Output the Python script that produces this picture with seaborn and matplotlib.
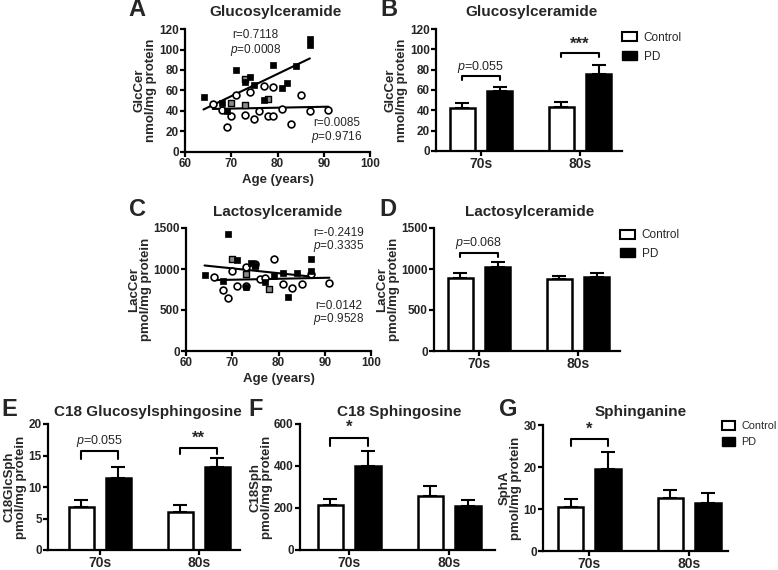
import numpy as np
import pandas as pd
import seaborn as sns
import matplotlib.pyplot as plt
from matplotlib.patches import Patch

sns.set_theme(style='ticks')
plt.rcParams['font.family'] = ['Liberation Sans', 'DejaVu Sans']
plt.rcParams['mathtext.fontset'] = 'custom'
plt.rcParams['mathtext.rm'] = 'Liberation Sans'
plt.rcParams['mathtext.it'] = 'Liberation Sans:italic'

# ---- scatter data (panels A and C) ----
pd_age = [64, 68, 69, 71, 73, 74, 75, 77, 79, 81, 82, 84, 87, 87]
pd_glc = [54, 48, 40, 80, 68, 73, 65, 51, 85, 62, 67, 84, 110, 104]
pdg_age = [70, 73, 73, 78]
pdg_glc = [48, 46, 71, 52]
ctl_age = [66, 68, 69, 70, 71, 73, 74, 75, 76, 77, 78, 79, 79, 81, 83, 85, 87, 91]
ctl_glc = [47, 41, 24, 35, 56, 36, 59, 32, 40, 64, 35, 35, 63, 42, 27, 56, 40, 41]

pd_age_c = [64, 68, 69, 71, 73, 74, 75, 77, 79, 81, 82, 84, 87, 87]
pd_lac = [929, 859, 1426, 1112, 786, 1072, 1035, 847, 917, 957, 664, 950, 1120, 970]
pdg_age_c = [70, 73, 75, 78]
pdg_lac = [1120, 941, 1050, 754]
ctl_age_c = [66, 68, 69, 70, 71, 73, 73, 75, 76, 77, 79, 81, 83, 85, 87, 91]
ctl_lac = [908, 745, 651, 970, 794, 1030, 790, 1063, 880, 896, 1124, 819, 774, 819, 937, 827]

# ---- bar data (mean, upper SEM) ----
decades = ['70s', '80s']
groups = ['Control', 'PD']
glc_ctl, glc_ctl_err = [42.5, 43.0], [4.5, 4.8]
glc_pd, glc_pd_err = [59.0, 76.0], [4.2, 8.5]
lac_ctl, lac_ctl_err = [895, 876], [52, 40]
lac_pd, lac_pd_err = [1030, 900], [60, 57]
gsph_ctl, gsph_ctl_err = [6.9, 6.0], [1.0, 1.1]
gsph_pd, gsph_pd_err = [11.4, 13.2], [1.8, 1.4]
sph_ctl, sph_ctl_err = [212, 256], [33, 50]
sph_pd, sph_pd_err = [400, 208], [71, 28]
spha_ctl, spha_ctl_err = [10.4, 12.6], [2.0, 2.0]
spha_pd, spha_pd_err = [19.6, 11.4], [4.0, 2.3]

W, H = 778, 570
fig = plt.figure(figsize=(W / 100, H / 100), dpi=100)


def px_axes(l, t, r, b):
    return fig.add_axes([l / W, 1 - b / H, (r - l) / W, (b - t) / H])


def style_ax(ax, ylabel):
    sns.despine(ax=ax)
    for s in ['left', 'bottom']:
        ax.spines[s].set_linewidth(1.6)
        ax.spines[s].set_color('black')
    ax.tick_params(width=1.6, length=3.5, color='black', labelsize=8.5, pad=1)
    for lab in ax.get_xticklabels() + ax.get_yticklabels():
        lab.set_fontweight('bold')
    ax.set_ylabel(ylabel, fontsize=9.5, fontweight='bold', linespacing=0.95, labelpad=1)


def scatter_panel(ax, a1, v1, a2, v2, a3, v3, ymax, yticks, ylabel):
    sns.regplot(x=a1 + a2, y=v1 + v2, scatter=False, ci=None, ax=ax,
                line_kws=dict(color='black', lw=1.5))
    sns.regplot(x=a3, y=v3, scatter=False, ci=None, ax=ax,
                line_kws=dict(color='black', lw=1.5))
    sns.scatterplot(x=a3, y=v3, marker='o', s=24, facecolor='white',
                    edgecolor='black', linewidth=1.2, ax=ax, zorder=3)
    sns.scatterplot(x=a2, y=v2, marker='s', s=24, color='#8c8c8c',
                    edgecolor='black', linewidth=1.0, ax=ax, zorder=3)
    sns.scatterplot(x=a1, y=v1, marker='s', s=22, color='black',
                    edgecolor='black', linewidth=0.5, ax=ax, zorder=4)
    ax.set_xlim(60, 100)
    ax.set_ylim(0, ymax)
    ax.set_xticks([60, 70, 80, 90, 100])
    ax.set_yticks(yticks)
    ax.set_xlabel('Age (years)', fontsize=9.5, fontweight='bold', labelpad=3)
    style_ax(ax, ylabel)


def bar_panel(ax, c, ce, p, pe, xlim, ymax, yticks, ylabel):
    df = pd.DataFrame({'decade': decades * 2,
                       'group': ['Control'] * 2 + ['PD'] * 2,
                       'value': c + p})
    sns.barplot(data=df, x='decade', y='value', hue='group', hue_order=groups,
                palette={'Control': 'white', 'PD': 'black'}, edgecolor='black',
                linewidth=1.8, width=0.75, gap=0.32, errorbar=None,
                legend=False, ax=ax, zorder=2)
    pos = np.arange(len(decades))
    for off, m, e in [(-0.1875, c, ce), (0.1875, p, pe)]:
        ax.errorbar(pos + off, m, yerr=[np.zeros(len(m)), e], fmt='none',
                    ecolor='black', elinewidth=1.5, capsize=5, capthick=1.5, zorder=1)
    ax.set_xlim(*xlim)
    ax.set_ylim(0, ymax)
    ax.set_yticks(yticks)
    ax.set_xlabel('')
    style_ax(ax, ylabel)
    ax.tick_params(axis='x', labelsize=10, pad=0.5)
    for lab in ax.get_xticklabels():
        lab.set_fontweight('bold')


def bracket(ax, i, y_top, drop, text, italic_p=False, fs=9):
    x1, x2 = i - 0.1875, i + 0.1875
    ax.plot([x1, x1, x2, x2], [y_top - drop, y_top, y_top, y_top - drop],
            color='black', lw=1.5, clip_on=False)
    ax.text(i, y_top + drop * 0.3, text, ha='center', va='bottom', fontsize=fs,
            fontweight='normal' if italic_p else 'bold', clip_on=False)


def legend(ax, x, y, fs=8.5):
    handles = [Patch(facecolor='white', edgecolor='black', linewidth=1.5, label='Control'),
               Patch(facecolor='black', edgecolor='black', label='PD')]
    ax.legend(handles=handles, loc='upper left', bbox_to_anchor=(x, y), frameon=False,
              fontsize=fs, handlelength=1.25, handleheight=0.8, labelspacing=0.55,
              handletextpad=0.6, borderaxespad=0, borderpad=0)


# Panel A
axA = px_axes(185, 29, 370, 152)
scatter_panel(axA, pd_age, pd_glc, pdg_age, pdg_glc, ctl_age, ctl_glc, 120,
              [0, 20, 40, 60, 80, 100, 120], 'GlcCer\nnmol/mg protein')
axA.text(75.2, 114, 'r=0.7118', ha='center', va='center', fontsize=8.5)
axA.text(75.2, 100, r'$\it{p}$=0.0008', ha='center', va='center', fontsize=8.5)
axA.text(92.8, 28, 'r=0.0085', ha='center', va='center', fontsize=8.5)
axA.text(92.8, 14.5, r'$\it{p}$=0.9716', ha='center', va='center', fontsize=8.5)

# Panel C
axC = px_axes(186, 228, 371, 351)
scatter_panel(axC, pd_age_c, pd_lac, pdg_age_c, pdg_lac, ctl_age_c, ctl_lac, 1500,
              [0, 500, 1000, 1500], 'LacCer\npmol/mg protein')
axC.text(93, 1440, 'r=-0.2419', ha='center', va='center', fontsize=8.5)
axC.text(93, 1275, r'$\it{p}$=0.3335', ha='center', va='center', fontsize=8.5)
axC.text(93, 550, 'r=0.0142', ha='center', va='center', fontsize=8.5)
axC.text(93, 385, r'$\it{p}$=0.9528', ha='center', va='center', fontsize=8.5)

# Panel B
axB = px_axes(436, 29, 622, 151)
bar_panel(axB, glc_ctl, glc_ctl_err, glc_pd, glc_pd_err, (-0.455, 1.424), 120,
          [0, 20, 40, 60, 80, 100, 120], 'GlcCer\nnmol/mg protein')
bracket(axB, 0, 74, 4, r'$\it{p}$=0.055', italic_p=True, fs=9)
bracket(axB, 1, 96, 4, '***', fs=12)
legend(axB, 1.0, 0.975)

# Panel D
axD = px_axes(434, 228, 620, 351)
bar_panel(axD, lac_ctl, lac_ctl_err, lac_pd, lac_pd_err, (-0.455, 1.424), 1500,
          [0, 500, 1000, 1500], 'LacCer\npmol/mg protein')
bracket(axD, 0, 1200, 55, r'$\it{p}$=0.068', italic_p=True, fs=9)
legend(axD, 1.0, 0.99)

# Panel E
axE = px_axes(48, 424, 240, 550)
bar_panel(axE, gsph_ctl, gsph_ctl_err, gsph_pd, gsph_pd_err, (-0.523, 1.417), 20,
          [0, 5, 10, 15, 20], 'C18GlcSph\npmol/mg protein')
bracket(axE, 0, 15.7, 1.3, r'$\it{p}$=0.055', italic_p=True, fs=9)
bracket(axE, 1, 16.2, 1.0, '**', fs=12)

# Panel F
axF = px_axes(300, 424, 495, 550)
bar_panel(axF, sph_ctl, sph_ctl_err, sph_pd, sph_pd_err, (-0.49, 1.46), 600,
          [0, 200, 400, 600], 'C18Sph\npmol/mg protein')
bracket(axF, 0, 535, 40, '*', fs=12)

# Panel G
axG = px_axes(543, 425, 728, 551)
bar_panel(axG, spha_ctl, spha_ctl_err, spha_pd, spha_pd_err, (-0.465, 1.39), 30,
          [0, 10, 20, 30], 'SphA\npmol/mg protein')
bracket(axG, 0, 26.7, 1.8, '*', fs=12)
legend(axG, 0.965, 1.03, fs=7.8)

# titles and panel letters
for x, y, t in [(276, 12, 'Glucosylceramide'), (531, 12, 'Glucosylceramide'),
                (278, 212, 'Lactosylceramide'), (530, 212, 'Lactosylceramide'),
                (148, 412, 'C18 Glucosylsphingosine'), (399, 412, 'C18 Sphingosine'),
                (641, 412, 'Sphinganine')]:
    fig.text(x / W, 1 - y / H, t, ha='center', va='center', fontsize=11, fontweight='bold')
for x, y, t in [(137, 10, 'A'), (389, 10, 'B'), (137, 209, 'C'), (388, 209, 'D'),
                (9, 410, 'E'), (256, 410, 'F'), (508, 410, 'G')]:
    fig.text(x / W, 1 - y / H, t, ha='center', va='center', fontsize=17, fontweight='bold')

fig.savefig('out.png', dpi=100)
